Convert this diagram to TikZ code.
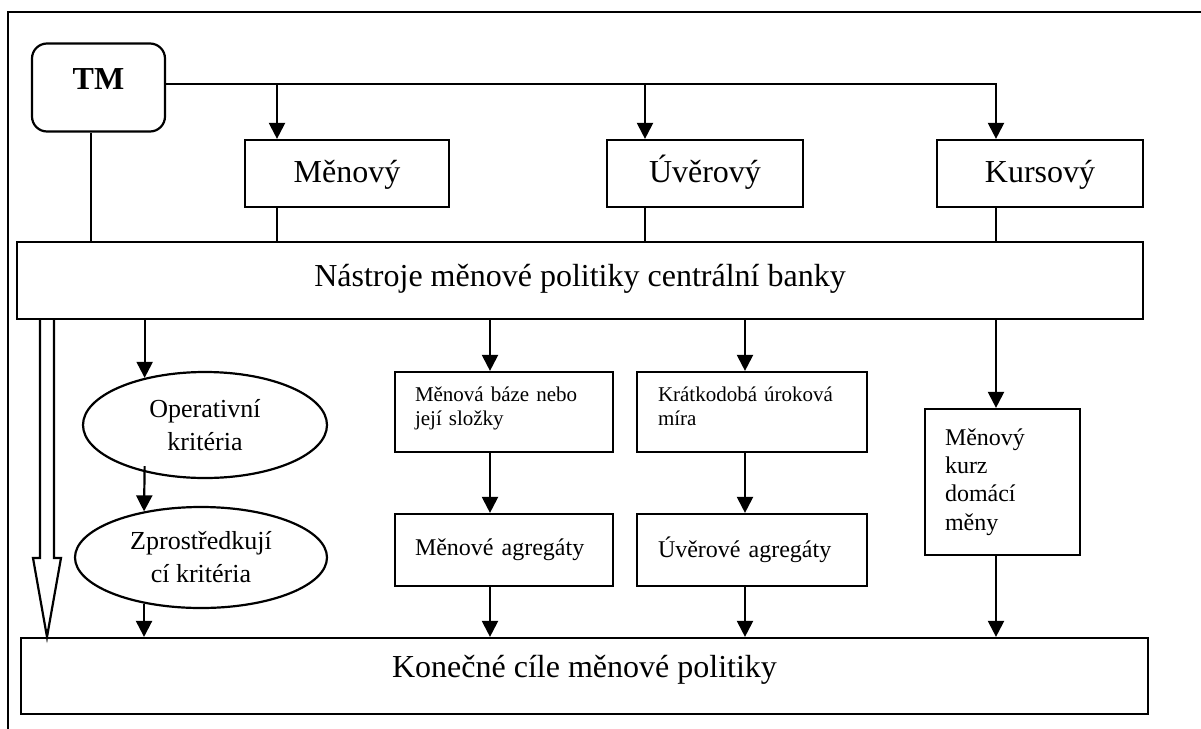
\documentclass[tikz,border=0pt]{standalone}
\usepackage{fontspec}
\setmainfont{Liberation Serif}
\usetikzlibrary{arrows.meta,shapes.geometric,calc}

\begin{document}
\begin{tikzpicture}[x=0.5pt,y=-0.5pt,line width=1.1pt,
  bigfont/.style={font=\fontsize{16}{19}\selectfont},
  box/.style={draw,rectangle,inner sep=0pt,bigfont},
  headbox/.style={box,text height=12pt,text depth=3.5pt},
  roundbox/.style={box,rounded corners=7.5pt},
  oval/.style={draw,ellipse,inner sep=0pt,align=center,
    font=\fontsize{13}{16.5}\selectfont},
  smallbox/.style={draw,rectangle,inner ysep=0pt,inner xsep=10pt,align=left,
    font=\fontsize{10.5}{12}\selectfont,text depth=18pt},
  midbox/.style={draw,rectangle,inner ysep=0pt,inner xsep=10pt,align=left,
    font=\fontsize{12}{14}\selectfont},
  arr/.style={-{Triangle[length=8pt,width=8pt]}},
  hollow/.style={line join=miter},
]
\useasboundingbox (0,0) rectangle (1201,729);

% frame
\draw (8,729) -- (8,12) -- (1201,12);

% column positions of the connectors
\coordinate (xA) at (91,0);
\coordinate (xB) at (277,0);
\coordinate (xC) at (645,0);
\coordinate (xD) at (996,0);
\coordinate (xF) at (490,0);
\coordinate (xG) at (745,0);
\coordinate (hl) at (40,0);
\coordinate (hr) at (54,0);
\coordinate (hx) at (47,0);
\coordinate (hb) at (0,558);

% top row
\node[roundbox,minimum width=66.5pt,minimum height=44pt] (tm) at (98.5,87.5) {};
\node[font=\bfseries\fontsize{16}{19}\selectfont] (tmtext) at (98.5,79.5) {TM};
\node[headbox,minimum width=102pt,minimum height=33.5pt] (men) at (347,173.5) {Měnový};
\node[headbox,minimum width=98pt,minimum height=33.5pt] (uve) at (705,173.5) {Úvěrový};
\node[headbox,minimum width=103pt,minimum height=33.5pt] (kur) at (1040,173.5) {Kursový};

% instruments
\node[box,minimum width=563pt,minimum height=38.5pt,text height=10.5pt,text depth=4.5pt]
  (nas) at (580,280.5) {Nástroje měnové politiky centrální banky};

% criteria
\node[oval,minimum width=122pt,minimum height=53pt] (op) at (205,425) {Operativní\\kritéria};
\node[oval,minimum width=126pt,minimum height=50.5pt] (zp) at (201,557.5) {Zprostředkují\\cí kritéria};

\node[smallbox,text width=89pt,minimum height=40pt] (baze) at (504,412)
  {Měnová báze nebo\\její složky};
\node[smallbox,text width=94pt,minimum height=40pt,inner xsep=10.5pt] (krat) at (752,412)
  {Krátkodobá úroková\\míra};
\node[midbox,text width=89pt,minimum height=36pt] (magr) at (504,550) {Měnové agregáty};
\node[midbox,text width=94pt,minimum height=36pt,inner xsep=10.5pt] (uagr) at (752,550) {Úvěrové agregáty};
\node[midbox,text width=57.5pt,minimum height=73pt,font=\fontsize{12}{14.2}\selectfont]
  (kurz) at (1002.5,482) {Měnový\\kurz\\domácí\\měny};

% final goals
\node[box,minimum width=563.5pt,minimum height=38pt,text height=8.5pt,text depth=7.5pt]
  (kon) at (584.5,676) {Konečné cíle měnové politiky};

% connectors from TM
\coordinate (tl) at ($(tm.east)+(0,-3.5)$);
\draw[arr] (tl) -| (kur.north -| xD);
\draw[arr] (tl -| xB) -- (men.north -| xB);
\draw[arr] (tl -| xC) -- (uve.north -| xC);
\draw (tm.south -| xA) -- (nas.north -| xA);
\draw (men.south -| xB) -- (nas.north -| xB);
\draw (uve.south -| xC) -- (nas.north -| xC);
\draw (kur.south -| xD) -- (nas.north -| xD);

% connectors from the instruments
\draw[arr] (nas.south -| op.142.5) -- (op.142.5);
\draw[arr] ($(op.-142.5)+(0,-6)$) -- (zp.141.3);
\draw[arr] (zp.-141.3) -- (kon.north -| zp.-141.3);
\draw[arr] (nas.south -| xF) -- (baze.north -| xF);
\draw[arr] (nas.south -| xG) -- (krat.north -| xG);
\draw[arr] (nas.south -| xD) -- (kurz.north -| xD);
\draw[arr] (baze.south -| xF) -- (magr.north -| xF);
\draw[arr] (krat.south -| xG) -- (uagr.north -| xG);
\draw[arr] (magr.south -| xF) -- (kon.north -| xF);
\draw[arr] (uagr.south -| xG) -- (kon.north -| xG);
\draw[arr] (kurz.south -| xD) -- (kon.north -| xD);

% broad hollow arrow straight to the final goals
\draw[hollow] (nas.south -| hl) -- (hl |- hb) -- ++(-7,0) -- (kon.north -| hx)
  -- ($(hr |- hb)+(7,0)$) -- (hr |- hb) -- (nas.south -| hr);
\end{tikzpicture}
\end{document}
